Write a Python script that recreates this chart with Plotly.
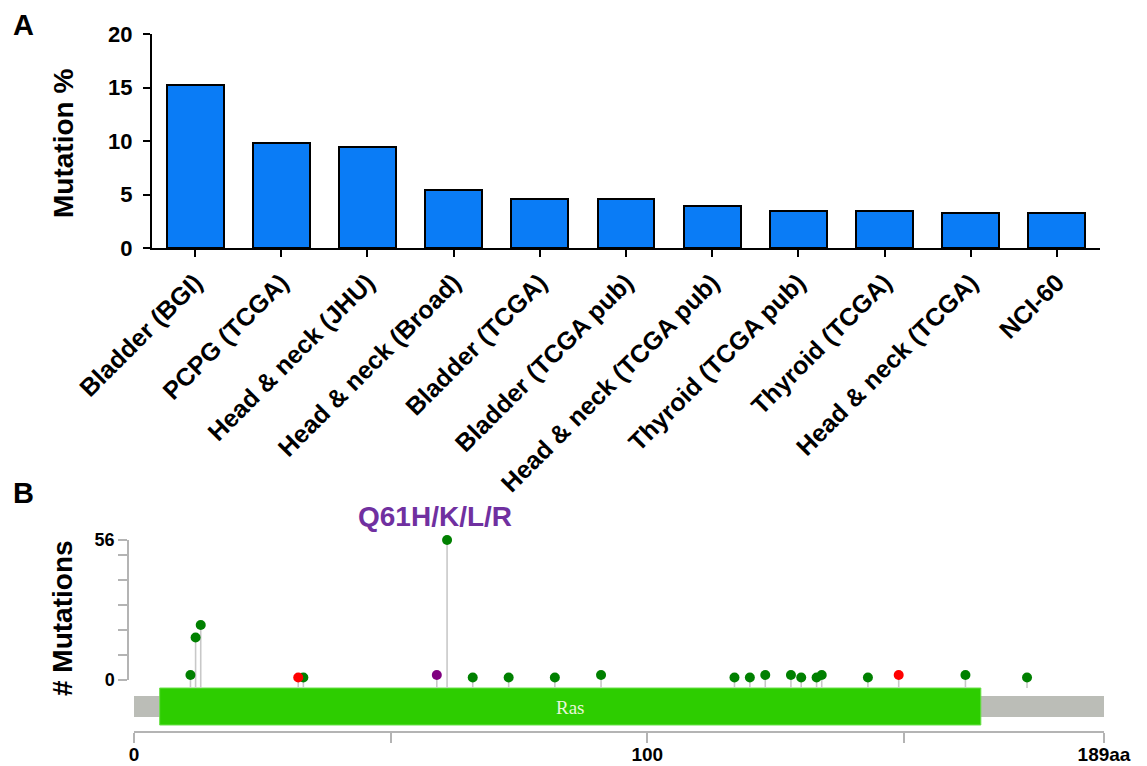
import plotly.graph_objects as go

W, H = 1147, 766

# ---------------- Panel A data ----------------
cancer_types = ["Bladder (BGI)", "PCPG (TCGA)", "Head & neck (JHU)", "Head & neck (Broad)",
                "Bladder (TCGA)", "Bladder (TCGA pub)", "Head & neck (TCGA pub)",
                "Thyroid (TCGA pub)", "Thyroid (TCGA)", "Head & neck (TCGA)", "NCI-60"]
mutation_pct = [15.2, 9.8, 9.4, 5.4, 4.6, 4.6, 3.9, 3.5, 3.5, 3.3, 3.3]
pct_ticks = [0, 5, 10, 15, 20]

# ---------------- Panel B data ----------------
protein_length = 189
residues = [11, 12, 13, 32, 33, 59, 61, 66, 73, 82, 91, 117, 120, 123, 128, 130, 133, 134, 143, 149, 162, 174]
counts   = [2, 17, 22, 1, 1, 2, 56, 1, 1, 1, 2, 1, 1, 2, 2, 1, 1, 2, 1, 2, 2, 1]
mut_type = ["missense", "missense", "missense", "truncating", "missense", "inframe", "missense",
            "missense", "missense", "missense", "missense", "missense", "missense", "missense",
            "missense", "missense", "missense", "missense", "missense", "truncating", "missense", "missense"]
domain_name, domain_start, domain_end = "Ras", 5, 165
count_ticks = [0, 10, 20, 30, 40, 50, 56]
count_ticktext = ["0", "", "", "", "", "", "56"]
pos_ticks = [0, 50, 100, 150, 189]
pos_ticktext = ["0", "", "100", "", "189aa"]
hotspot_label = "Q61H/K/L/R"
hotspot_residue = 61

type_colors = {"missense": "#008000", "inframe": "#800080", "truncating": "#FF0000"}

FONT = "Liberation Sans, Arial, Helvetica, sans-serif"
CLEAR = "rgba(0,0,0,0)"


def fx(px):
    return px / W


def fy(py):
    return 1 - py / H


fig = go.Figure()

# Panel A bars
fig.add_trace(go.Bar(
    x=cancer_types, y=mutation_pct, xaxis="x", yaxis="y", width=0.66,
    marker=dict(color="#0A7CF6", line=dict(color="black", width=2)),
    hoverinfo="x+y"))

# Panel B stems (on extended hidden axis y2, same scale as y3)
PX_PER_COUNT = 2.5
stem_base = (680 - 688) / PX_PER_COUNT
sx, sy = [], []
for r, c in zip(residues, counts):
    sx += [r, r, None]
    sy += [stem_base, c, None]
fig.add_trace(go.Scatter(x=sx, y=sy, xaxis="x2", yaxis="y2", mode="lines",
                         line=dict(color="#c8c8c8", width=1.6), hoverinfo="skip"))

# Panel B heads
for t in ["missense", "inframe", "truncating"]:
    xs = [r for r, m in zip(residues, mut_type) if m == t]
    ys = [c for c, m in zip(counts, mut_type) if m == t]
    fig.add_trace(go.Scatter(x=xs, y=ys, xaxis="x2", yaxis="y3", mode="markers",
                             cliponaxis=False,
                             marker=dict(color=type_colors[t], size=10, line=dict(width=0)),
                             name=t))

# Domain track shapes
fig.add_shape(type="rect", xref="x2", yref="paper", x0=0, x1=protein_length,
              y0=fy(717), y1=fy(696), fillcolor="#BBBDB7", line=dict(width=0), layer="below")
fig.add_shape(type="rect", xref="x2", yref="paper", x0=domain_start, x1=domain_end,
              y0=fy(725), y1=fy(688), fillcolor="#2DCD00", line=dict(color="#6be04a", width=1), layer="below")

annotations = [
    dict(text="A", x=fx(23), y=fy(25), xref="paper", yref="paper", showarrow=False,
         font=dict(family=FONT, size=29, color="black", weight="bold"), xanchor="center", yanchor="middle"),
    dict(text="B", x=fx(23), y=fy(493), xref="paper", yref="paper", showarrow=False,
         font=dict(family=FONT, size=29, color="black", weight="bold"), xanchor="center", yanchor="middle"),
    dict(text="Mutation %", x=fx(63), y=fy(144), xref="paper", yref="paper", showarrow=False, textangle=-90,
         font=dict(family=FONT, size=28, color="black", weight="bold"), xanchor="center", yanchor="middle"),
    dict(text="# Mutations", x=fx(62), y=fy(618), xref="paper", yref="paper", showarrow=False, textangle=-90,
         font=dict(family=FONT, size=28, color="black", weight="bold"), xanchor="center", yanchor="middle"),
    dict(text=hotspot_label, x=hotspot_residue, y=counts[residues.index(hotspot_residue)],
         xref="x2", yref="y3", showarrow=False, xshift=-12, yshift=24,
         font=dict(family=FONT, size=28, color="#7030A0", weight="bold"), xanchor="center", yanchor="middle"),
    dict(text=domain_name, x=(domain_start + domain_end) / 2, y=fy(707), xref="x2", yref="paper",
         showarrow=False, font=dict(family="Liberation Serif, DejaVu Serif, serif", size=19, color="#e8f7d8"),
         xanchor="center", yanchor="middle"),
]

fig.update_layout(
    template="none",
    width=W, height=H, margin=dict(l=0, r=0, t=0, b=0, autoexpand=False),
    paper_bgcolor="white", plot_bgcolor=CLEAR, showlegend=False,
    bargap=0,
    annotations=annotations,
    xaxis=dict(domain=[fx(152), fx(1100)], anchor="y", type="category", range=[-0.5, 10.5],
               automargin=False,
               showline=True, linecolor="black", linewidth=2, ticks="outside", ticklen=7, tickwidth=2,
               tickcolor="black", tickangle=-45, showgrid=False, zeroline=False, ticklabelstandoff=1,
               tickfont=dict(family=FONT, size=25, color="black", weight="bold")),
    yaxis=dict(domain=[fy(248), fy(34)], anchor="x", range=[0, 20], tickvals=pct_ticks,
               automargin=False,
               showline=True, linecolor="black", linewidth=2, ticks="outside", ticklen=7, tickwidth=2,
               tickcolor="black", showgrid=False, zeroline=False, ticklabelstandoff=6,
               tickfont=dict(family=FONT, size=22, color="black", weight="bold")),
    xaxis2=dict(domain=[fx(134), fx(1104)], anchor="free", position=fy(732), range=[0, protein_length],
                automargin=False,
                tickvals=pos_ticks, ticktext=pos_ticktext, showline=True, linecolor="#b4b4b4", linewidth=2,
                ticks="outside", ticklen=10, tickwidth=1.5, tickcolor="#b4b4b4", showgrid=False, zeroline=False,
                ticklabelstandoff=-5,
                tickfont=dict(family=FONT, size=19, color="black", weight="bold")),
    yaxis2=dict(domain=[fy(745), fy(535)], anchor="x2", range=[-26, 58], visible=False,
                automargin=False, showgrid=False, zeroline=False),
    yaxis3=dict(domain=[fy(680), fy(540)], anchor="free", position=fx(128), range=[0, 56],
                automargin=False,
                tickvals=count_ticks, ticktext=count_ticktext, showline=True, linecolor="#b4b4b4",
                linewidth=1.5, ticks="outside", ticklen=9, tickwidth=1.5, tickcolor="#b4b4b4",
                showgrid=False, zeroline=False,
                tickfont=dict(family=FONT, size=18, color="black", weight="bold")),
)

fig.write_html("out.html")
